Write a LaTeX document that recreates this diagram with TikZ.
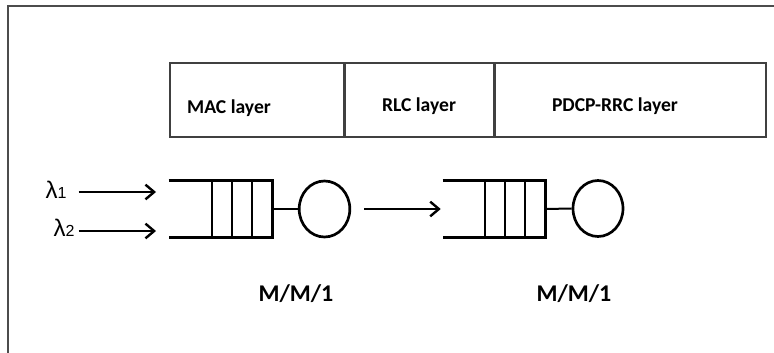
\documentclass[tikz,border=0pt]{standalone}
\usepackage{fontspec}
\newfontfamily\calfont{Carlito}
\newfontfamily\arialfont{Liberation Sans}
\usetikzlibrary{arrows.meta,shapes.geometric,positioning}

\begin{document}
\begin{tikzpicture}[x=0.75pt, y=-0.75pt,
    cell/.style={draw=black!75, line width=1.2pt, minimum height=55.5pt, inner sep=0pt},
    lbl/.style={font=\calfont\bfseries\fontsize{14.7}{16}\selectfont},
    mm/.style={font=\calfont\bfseries\fontsize{18}{20}\selectfont},
    lam/.style={font=\arialfont\fontsize{18}{20}\selectfont, inner sep=0pt},
    queue/.style={minimum height=42pt, inner sep=0pt},
    server/.style={ellipse, draw, line width=2pt, minimum width=38pt, minimum height=42pt, inner sep=0pt},
    arr/.style={-{Straight Barb[length=6.5pt,width=11pt]}, line width=1.8pt}
]
\useasboundingbox (0,0) rectangle (774,353);
\draw[line width=1.5pt, black!70] (8,353) -- (8,6) -- (774,6);

% layers
\node[cell, minimum width=130.5pt] (mac) at (257,100) {};
\node[cell, minimum width=111pt, right=0pt of mac] (rlc) {};
\node[cell, minimum width=203.25pt, right=0pt of rlc] (pdcp) {};
\node[lbl] at (229,108) {MAC layer};
\node[lbl] at (419,106) {RLC layer};
\node[lbl] at (615,106) {PDCP-RRC layer};

% queues and servers
\node[queue, minimum width=77.25pt] (q1) at (220.5,209) {};
\node[queue, minimum width=76.5pt] (q2) at (494,209) {};
\foreach \q in {q1,q2} {
  \draw[line width=2.3pt] (\q.north west) -- (\q.north east) -- (\q.south east) -- (\q.south west);
  \foreach \k in {1,2,3}
    \draw[line width=1.6pt] ([xshift=-15pt*\k]\q.north east) -- ([xshift=-15pt*\k]\q.south east);
}
\node[server] (s1) at (324.5,209) {};
\node[server, minimum width=37.5pt] (s2) at (598,208.5) {};
\draw[line width=1.5pt] (q1.east) -- (s1.west);
\draw[line width=1.5pt] (q2.east) -- (s2.west);
\draw[arr, shorten <=9.75pt, shorten >=1.5pt] (s1.east) -- (q2.west);

% arrivals
\node[lam] (l1) at (56,190) {λ{\fontsize{12}{13}\selectfont 1}};
\node[lam] (l2) at (64,228) {λ{\fontsize{12}{13}\selectfont 2}};
\coordinate (in1) at (156,192);
\coordinate (in2) at (156,231);
\draw[arr, shorten <=9pt] (l1.east |- in1) -- (in1);
\draw[arr, shorten <=3pt] (l2.east |- in2) -- (in2);

\node[mm] (m1) at (296,294) {M/M/1};
\node[mm] (m2) at (574,294) {M/M/1};
\end{tikzpicture}
\end{document}
